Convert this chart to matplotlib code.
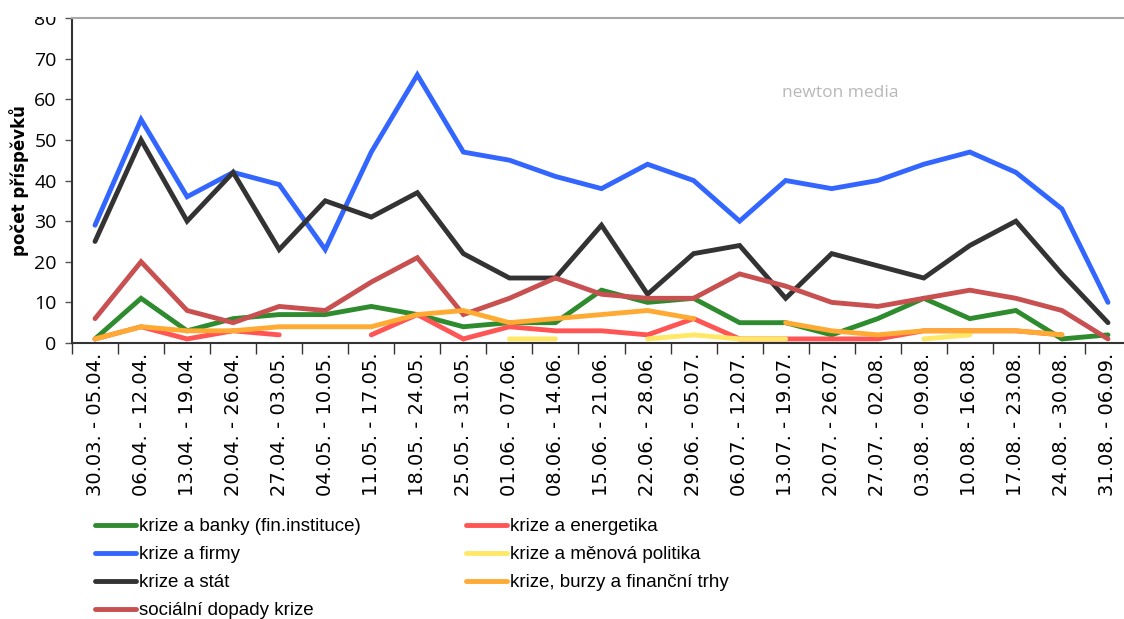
import matplotlib
matplotlib.use("Agg")
import matplotlib.pyplot as plt
import numpy as np

nan = np.nan

weeks = ['30.03. - 05.04.', '06.04. - 12.04.', '13.04. - 19.04.', '20.04. - 26.04.',
         '27.04. - 03.05.', '04.05. - 10.05.', '11.05. - 17.05.', '18.05. - 24.05.',
         '25.05. - 31.05.', '01.06. - 07.06.', '08.06. - 14.06.', '15.06. - 21.06.',
         '22.06. - 28.06.', '29.06. - 05.07.', '06.07. - 12.07.', '13.07. - 19.07.',
         '20.07. - 26.07.', '27.07. - 02.08.', '03.08. - 09.08.', '10.08. - 16.08.',
         '17.08. - 23.08.', '24.08. - 30.08.', '31.08. - 06.09.']

banky = [1, 11, 3, 6, 7, 7, 9, 7, 4, 5, 5, 13, 10, 11, 5, 5, 2, 6, 11, 6, 8, 1, 2]
firmy = [29, 55, 36, 42, 39, 23, 47, 66, 47, 45, 41, 38, 44, 40, 30, 40, 38, 40, 44, 47, 42, 33, 10]
stat = [25, 50, 30, 42, 23, 35, 31, 37, 22, 16, 16, 29, 12, 22, 24, 11, 22, 19, 16, 24, 30, 17, 5]
socialni = [6, 20, 8, 5, 9, 8, 15, 21, 7, 11, 16, 12, 11, 11, 17, 14, 10, 9, 11, 13, 11, 8, 1]
energetika = [1, 4, 1, 3, 2, nan, 2, 7, 1, 4, 3, 3, 2, 6, 1, 1, 1, 1, 3, 3, 3, 2, nan]
menova = [nan, nan, nan, nan, nan, nan, nan, nan, nan, 1, 1, nan, 1, 2, 1, 1, nan, nan, 1, 2, nan, nan, nan]
burzy = [1, 4, 3, 3, 4, 4, 4, 7, 8, 5, 6, 7, 8, 6, nan, 5, 3, 2, 3, 3, 3, 2, nan]

series = [
    ('krize a banky (fin.instituce)', banky, '#2e8b2e'),
    ('krize a firmy', firmy, '#3366ff'),
    ('krize a stát', stat, '#333333'),
    ('sociální dopady krize', socialni, '#c85050'),
    ('krize a energetika', energetika, '#ff5555'),
    ('krize a měnová politika', menova, '#ffe866'),
    ('krize, burzy a finanční trhy', burzy, '#ffaa33'),
]

fig = plt.figure(figsize=(11.24, 6.19), dpi=100)
ax = fig.add_axes([72 / 1124, (619 - 343) / 619, 1059 / 1124, 325 / 619])

x = np.arange(len(weeks))
for name, vals, col in series:
    ax.plot(x, vals, color=col, linewidth=3.5, label=name, solid_capstyle='round',
            solid_joinstyle='miter')

ax.set_xlim(-0.5, len(weeks) - 0.5)
ax.set_ylim(0, 80)
ax.set_yticks(range(0, 81, 10))
ax.set_xticks(x)
ax.set_xticklabels(weeks, rotation=90, fontsize=14, family='DejaVu Sans')
ax.set_xticks(np.arange(-0.5, len(weeks), 1), minor=True)
ax.tick_params(axis='x', which='major', length=0, pad=7)
ax.tick_params(axis='x', which='minor', length=8, width=1, color='#333333', direction='out')
ax.tick_params(axis='y', length=5, width=1, color='#555555', direction='out', pad=6)
for lbl in ax.get_yticklabels():
    lbl.set_family('Open Sans')
    lbl.set_fontsize(14)

for side in ['left', 'bottom']:
    ax.spines[side].set_color('#333333')
    ax.spines[side].set_linewidth(1.5)
ax.spines['top'].set_color('#a8a8a8')
ax.spines['top'].set_linewidth(1.5)
ax.spines['right'].set_visible(False)

ax.set_ylabel('počet příspěvků', fontsize=12, fontweight='bold')
ax.yaxis.set_label_coords(-0.041, 0.5)

# the top of the "80" label is cut off in the original
fig.patches.append(plt.Rectangle((0, 1 - 17 / 619), 68 / 1124, 17 / 619,
                                 transform=fig.transFigure, facecolor='white',
                                 edgecolor='none', zorder=10))

# watermark
fig.text(840 / 1124, 1 - 93 / 619, 'newton media', fontsize=12.5, color='#b8b8b8',
         family='Open Sans', ha='center', va='center')

fig.legend(loc='upper left', bbox_to_anchor=(95 / 1124, 1 - 518 / 619), ncol=2,
           frameon=False, prop={'family': 'Liberation Sans', 'size': 13.5},
           handlelength=2.2, handletextpad=0.15, labelspacing=0.58, columnspacing=5.6,
           borderpad=0, borderaxespad=0)

fig.savefig('out.png', dpi=100)
